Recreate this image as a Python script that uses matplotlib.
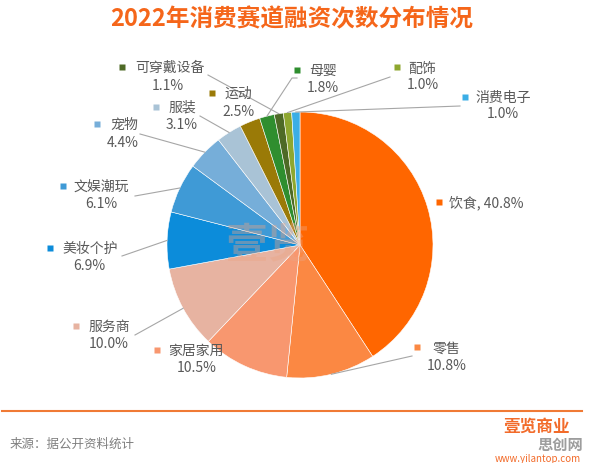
import matplotlib
matplotlib.use("Agg")
import matplotlib.pyplot as plt
import numpy as np

plt.rcParams['font.family'] = ['Noto Sans CJK SC', 'DejaVu Sans']

# ---- data ----
categories = ['饮食', '零售', '家居家用', '服务商', '美妆个护', '文娱潮玩', '宠物',
              '服装', '运动', '母婴', '可穿戴设备', '配饰', '消费电子']
shares = [40.8, 10.8, 10.5, 10.0, 6.9, 6.1, 4.4, 3.1, 2.5, 1.8, 1.1, 1.0, 1.0]
colors = ['#FF6600', '#FB8843', '#F8976F', '#E7B3A1', '#0C8CDA', '#3F9AD6', '#76AED9',
          '#A9C3D6', '#9A7A07', '#2F8E2F', '#4E6A26', '#8EA72F', '#3BAEE6']
title = '2022年消费赛道融资次数分布情况'
source = '来源：据公开资料统计'

# ---- layout (pixel coords, y down) ----
CX, CY, R = 300, 246, 133
# marker xy, name left x, name y, pct center x, pct y, leader start
label_layout = {
    '饮食':     ((439, 203), 449, 203, None, None, None),
    '零售':     ((417, 348), 433, 349, 447, 366, [(412, 357)]),
    '家居家用': ((157, 351), 168, 351, 197, 368, None),
    '服务商':   ((76, 327), 88, 327, 109, 344, [(135, 336)]),
    '美妆个护': ((50, 249), 62, 249, 89, 266, [(122, 257)]),
    '文娱潮玩': ((63, 187), 73, 187, 101, 204, [(135, 197)]),
    '宠物':     ((97, 125), 110, 125, 123, 143, [(140, 135)]),
    '服装':     ((156, 108), 168, 108, 182, 125, [(200, 117)]),
    '运动':     ((212, 94), 224, 94, 238, 112, None),
    '母婴':     ((297, 71), 309, 71, 323, 88, [(297, 79), (292, 79)]),
    '可穿戴设备': ((122, 68), 135, 68, 168, 86, [(208, 76)]),
    '配饰':     ((397, 68), 408, 69, 423, 85, [(390, 78)]),
    '消费电子': ((465, 98), 475, 98, 503, 114, [(460, 107)]),
}

fig = plt.figure(figsize=(5.96, 4.64), dpi=100)
fig.patch.set_facecolor('white')
ax = fig.add_axes([0, 0, 1, 1])

wedges, _ = ax.pie(shares, colors=colors, startangle=-90, counterclock=True,
                   center=(CX, CY), radius=R,
                   wedgeprops=dict(edgecolor='white', linewidth=0.4))
ax.set_xlim(0, 596)
ax.set_ylim(464, 0)
ax.set_aspect('equal')
ax.axis('off')

text_color = '#595959'
fs = 10
for w, cat, val, col in zip(wedges, categories, shares, colors):
    (mx, my), nx, ny, px, py, leader = label_layout[cat]
    mid = np.deg2rad((w.theta1 + w.theta2) / 2)
    ex, ey = CX + R * np.cos(mid), CY + R * np.sin(mid)
    if leader:
        pts = leader + [(ex, ey)]
        ax.plot([p[0] for p in pts], [p[1] for p in pts], color='#A6A6A6', lw=0.8, zorder=1)
    ax.plot([mx], [my], marker='s', ms=5, color=col, mec='none', zorder=3)
    if px is None:
        ax.text(nx, ny, f'{cat}, {val:.1f}%', ha='left', va='center', fontsize=fs, color=text_color)
    else:
        ax.text(nx, ny, cat, ha='left', va='center', fontsize=fs, color=text_color)
        ax.text(px, py, f'{val:.1f}%', ha='center', va='center', fontsize=fs, color=text_color)

# center watermark
ax.text(268, 246, '壹览', ha='center', va='center', fontsize=30, color='#EBA585',
        alpha=0.4, fontweight='bold', zorder=4)

# title
ax.text(292, 19, title, ha='center', va='center', fontsize=17, fontweight='bold', color='#F5661A')

# footer
ax.plot([2, 582], [412, 412], color='#F07A35', lw=1.5)
ax.text(10, 444, source, ha='left', va='center', fontsize=9, color='#7F7F7F')
ax.text(537, 427, '壹览商业', ha='center', va='center', fontsize=12, fontweight='bold', color='#F26B2A')
ax.text(560, 445, '思创网', ha='center', va='center', fontsize=11, fontweight='bold', color='#8C8C8C', alpha=0.85)
ax.text(538, 459, 'www.yilantop.com', ha='center', va='center', fontsize=7, color='#F26B2A')

fig.savefig('out.png', dpi=100, facecolor='white')
